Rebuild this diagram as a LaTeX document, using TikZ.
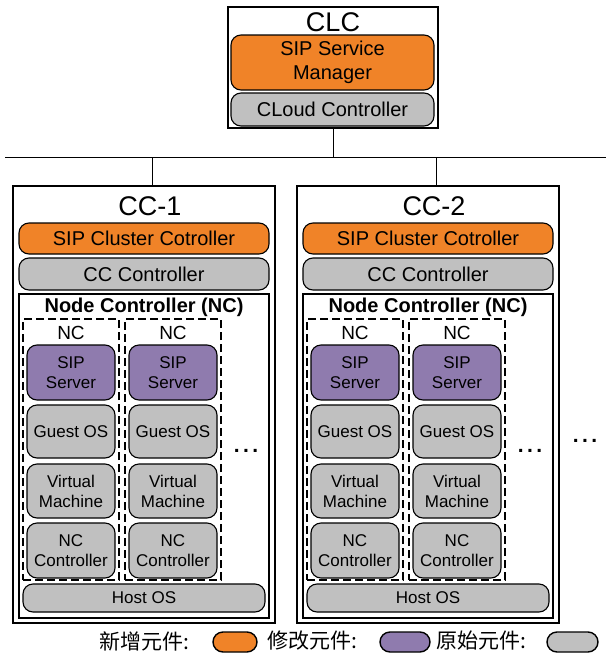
\documentclass[tikz,border=0pt]{standalone}
\usepackage{fontspec}
\setmainfont{Liberation Sans}
\newfontfamily\cjk{Noto Sans CJK TC}
\definecolor{orgA}{HTML}{F08328}
\definecolor{purA}{HTML}{8F7BAE}
\definecolor{grayA}{HTML}{C0C0C0}
\begin{document}
\begin{tikzpicture}[x=1pt,y=-1pt,
  outer/.style={draw, line width=1.2pt, inner sep=0pt},
  comp/.style={draw, line width=1.1pt, rounded corners=10pt, inner sep=0pt, align=center},
  dashbox/.style={draw, dash pattern=on 8pt off 4pt, line width=1.1pt, inner sep=0pt},
  bigt/.style={font=\fontsize{27}{30}\selectfont, inner sep=0pt},
  midt/.style={font=\fontsize{20}{24}\selectfont},
  smt/.style={font=\fontsize{17}{20}\selectfont},
  dotst/.style={font=\fontsize{21}{24}\selectfont\bfseries, inner sep=0pt},
  pill/.style={draw, line width=1.4pt, rounded corners=10pt, minimum width=#1, minimum height=20pt, inner sep=0pt},
  legt/.style={font=\cjk\fontsize{21}{24}\selectfont, inner sep=0pt, anchor=west},
  wire/.style={line width=1pt}
]
\useasboundingbox (0,0) rectangle (606,654);

% CLC
\node[outer, minimum width=210pt, minimum height=121pt] (clc) at (333,67.5) {};
\node[bigt] (clct) at (333,22) {CLC};
\node[comp, fill=orgA, midt, minimum width=203pt, minimum height=55pt] (ssm) at (332.5,62.5) {SIP Service\\Manager};
\node[comp, fill=grayA, midt, minimum width=203pt, minimum height=33pt] (cloud) at (332.5,109.5) {CLoud Controller};

% bus
\coordinate (busL) at (5,157);
\coordinate (busR) at (606,157);
\draw[wire] (busL) -- (busR);
\draw[wire] (clc.south) -- (clc.south |- busL);

\foreach \i/\dx in {1/0,2/284}{
  \begin{scope}[xshift=\dx pt]
    \node[outer, minimum width=262pt, minimum height=437pt] (cc\i) at (144,404.5) {};
    \node[bigt] (cct\i) at (150,206) {CC-\i};
    \node[comp, fill=orgA, midt, minimum width=250pt, minimum height=31pt] (scc\i) at (144,238.5) {SIP Cluster Cotroller};
    \node[comp, fill=grayA, midt, minimum width=250pt, minimum height=32pt] (ccc\i) at (144,274) {CC Controller};
    \node[outer, minimum width=250pt, minimum height=324pt] (ncb\i) at (144,456) {};
    \node[font=\fontsize{20}{24}\selectfont\bfseries, inner sep=0pt] (ncbt\i) at (144,307) {Node Controller (NC)};
    \foreach \j/\cx in {1/71,2/173}{
      \node[dashbox, minimum width=96pt, minimum height=261pt] (nc\i\j) at (\cx,449.5) {};
      \node[font=\fontsize{19}{22}\selectfont, inner sep=0pt] (nct\i\j) at (\cx,333) {NC};
      \node[comp, fill=purA, smt, minimum width=88pt, minimum height=55pt] (sip\i\j) at (\cx,372.5) {SIP\\Server};
      \node[comp, fill=grayA, smt, minimum width=88pt, minimum height=53pt] (gos\i\j) at (\cx,431.5) {Guest OS};
      \node[comp, fill=grayA, smt, minimum width=88pt, minimum height=54pt] (vm\i\j) at (\cx,491) {Virtual\\Machine};
      \node[comp, fill=grayA, smt, minimum width=88pt, minimum height=55pt] (ncc\i\j) at (\cx,550.5) {NC\\Controller};
    }
    \node[dotst] (dots\i) at (246,451) {.\,.\,.};
    \node[comp, fill=grayA, smt, minimum width=242pt, minimum height=28pt] (host\i) at (144,598) {Host OS};
  \end{scope}
}
\coordinate (c1a) at (152,157);
\coordinate (c2a) at (436,157);
\draw[wire] (c1a) -- (c1a |- cc1.north);
\draw[wire] (c2a) -- (c2a |- cc2.north);

\node[dotst] (dotsR) at (585,441) {.\,.\,.};

% legend
\node[legt] (l1) at (99,641) {新增元件:};
\node[pill=44pt, fill=orgA] (p1) at (235,642) {};
\node[legt] (l2) at (267,641) {修改元件:};
\node[pill=50pt, fill=purA] (p2) at (405,642) {};
\node[legt] (l3) at (436,641) {原始元件:};
\node[pill=51pt, fill=grayA] (p3) at (572.5,642) {};
\end{tikzpicture}
\end{document}
